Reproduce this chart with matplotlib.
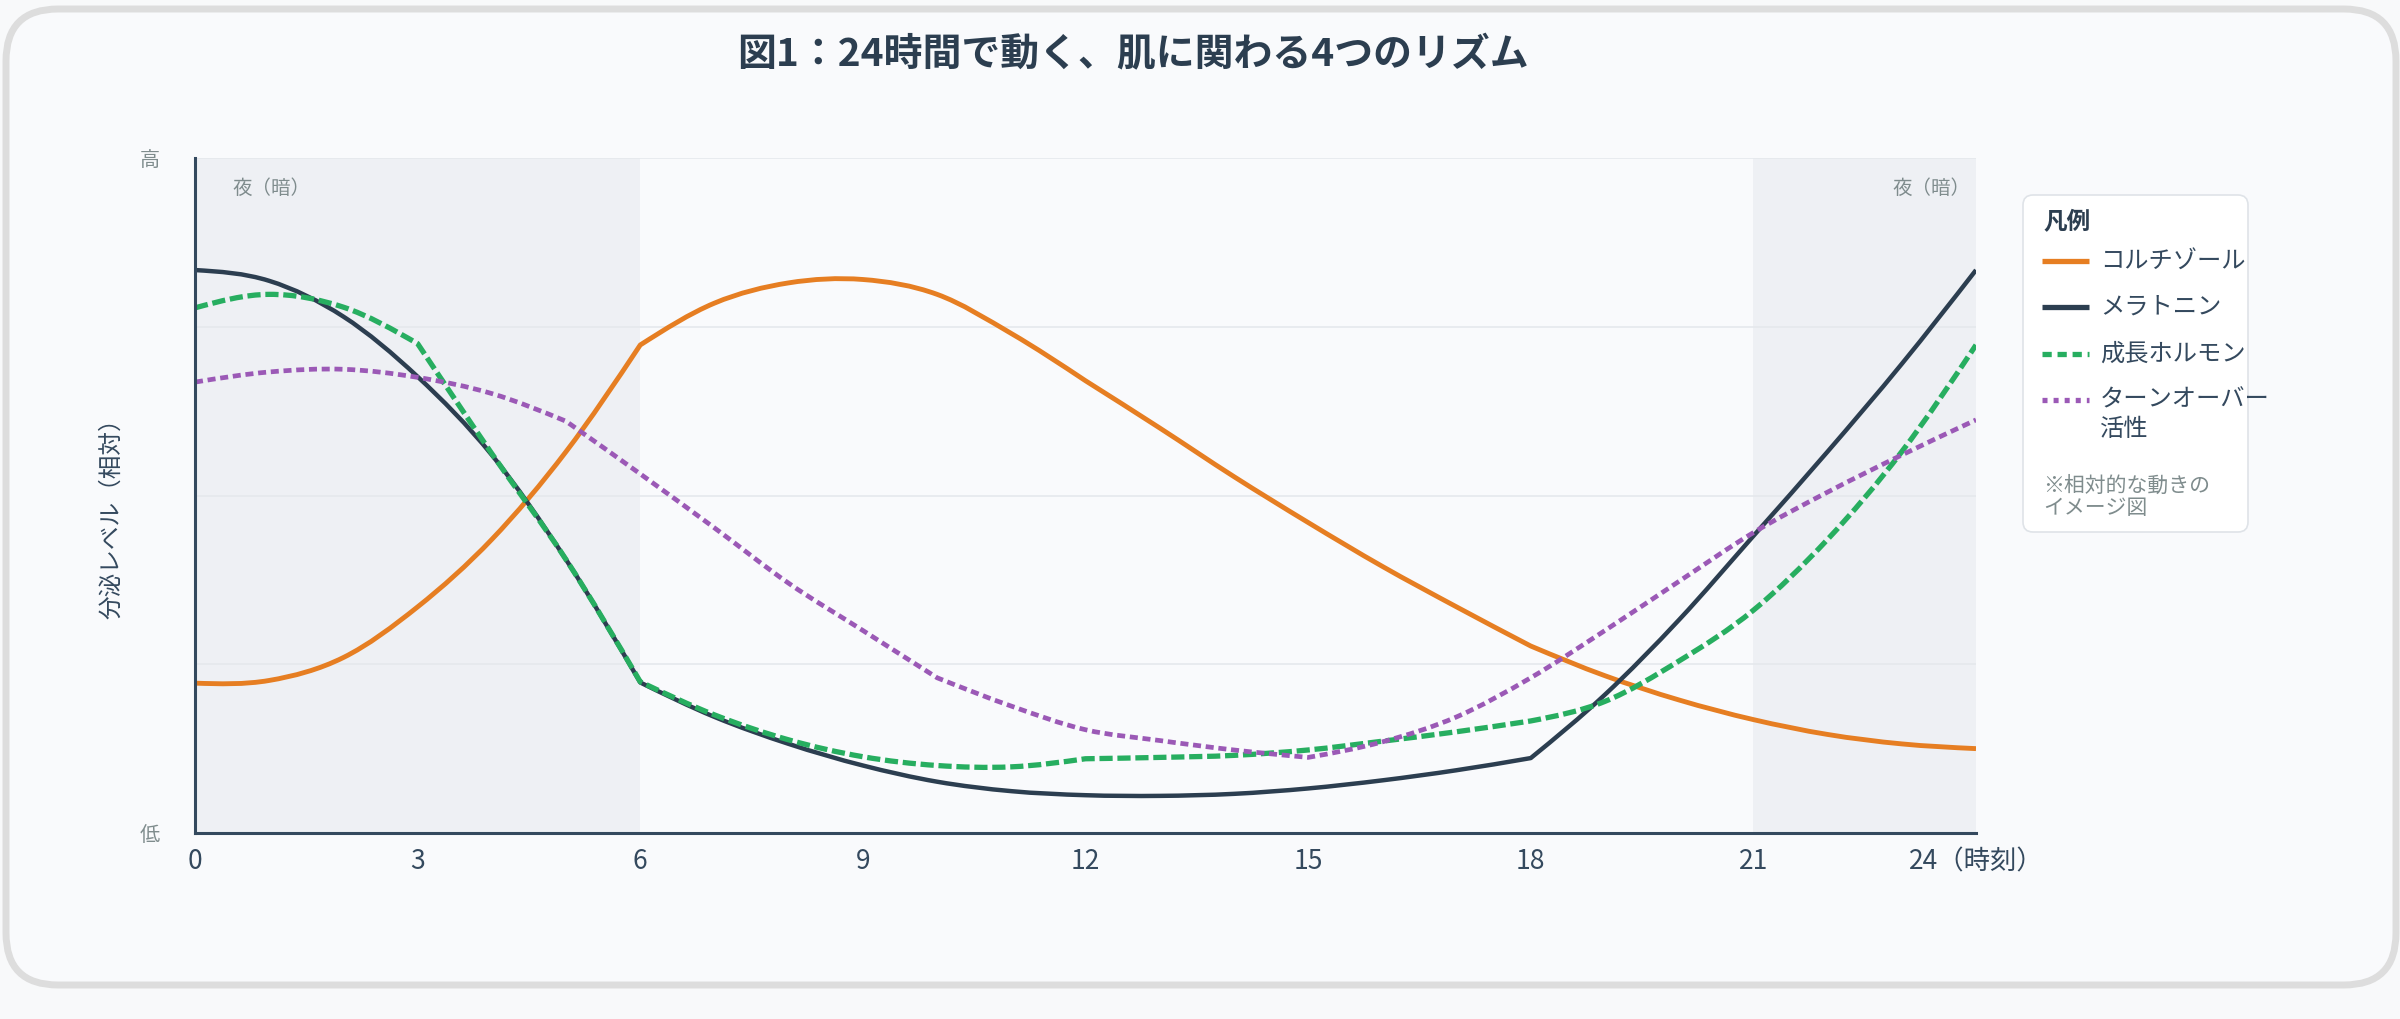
import matplotlib
matplotlib.use("Agg")
import matplotlib.pyplot as plt
from matplotlib.path import Path
from matplotlib.patches import PathPatch, FancyBboxPatch
from matplotlib.lines import Line2D
from matplotlib.transforms import IdentityTransform

plt.rcParams['font.family'] = ['Noto Sans CJK JP', 'DejaVu Sans']

# ---------------- data (relative level 0-100, hourly) ----------------
hours = list(range(25))
cortisol = [22.2, 22.6, 26.0, 33.5, 43.5, 56.5, 72.3, 78.5, 81.5, 82.0, 79.8, 74.0, 67.0,
            60.0, 52.8, 46.0, 39.5, 33.5, 27.7, 23.3, 19.7, 16.8, 14.6, 13.2, 12.5]
melatonin = [83.4, 81.8, 76.5, 67.6, 56.0, 40.5, 22.3, 17.2, 13.2, 10.0, 7.6, 6.2, 5.6,
             5.5, 5.8, 6.6, 7.8, 9.3, 11.1, 20.5, 31.6, 44.0, 56.5, 69.5, 83.4]
growth = [77.8, 79.8, 77.9, 72.5, 56.2, 40.5, 22.4, 17.5, 13.8, 11.3, 10.0, 9.8, 11.0,
          11.2, 11.5, 12.3, 13.6, 15.0, 16.6, 19.5, 25.5, 33.0, 43.5, 56.5, 72.3]
turnover = [66.8, 68.3, 68.7, 67.5, 65.1, 61.0, 53.2, 45.2, 37.0, 30.0, 23.0, 18.8, 15.3,
            13.7, 12.3, 11.2, 13.5, 17.2, 23.0, 30.0, 37.3, 44.5, 50.5, 56.0, 61.2]

series_values = [cortisol, melatonin, growth, turnover]
series_labels = ['コルチゾール', 'メラトニン', '成長ホルモン', 'ターンオーバー\n活性']
series_colors = ['#e67e22', '#2c3e50', '#27ae60', '#9b59b6']
series_breaks = [[6, 12, 18], [6, 18], [3, 6, 12, 18], [5, 10, 15]]

night_spans = [(0, 6), (21, 24)]
night_label = '夜（暗）'
xtick_values = [0, 3, 6, 9, 12, 15, 18, 21, 24]
xtick_labels = ['0', '3', '6', '9', '12', '15', '18', '21', '24（時刻）']
ytick_values = [0, 25, 50, 75, 100]
ytick_labels = ['低', '', '', '', '高']
title = '図1：24時間で動く、肌に関わる4つのリズム'
ylabel = '分泌レベル（相対）'
legend_title = '凡例'
legend_note = '※相対的な動きの\nイメージ図'

# ---------------- styles ----------------
line_widths = [3.5, 3.2, 3.8, 3.4]
line_styles = ['-', '-', (0, (2.5, 0.9)), (0, (1.7, 1.0))]
legend_styles = ['-', '-', (0, (1.75, 1.1)), (0, (0.95, 1.15))]

W, H = 2400, 1019
fig = plt.figure(figsize=(24, 10.19), dpi=100, facecolor='#f8f9fa')


def fx(x):
    return x / W


def fy(y):
    return 1 - y / H


# card background
card = FancyBboxPatch((6, H - 985), 2390, 976,
                      boxstyle='round,pad=0,rounding_size=52',
                      transform=IdentityTransform(), facecolor='#f9fafc',
                      edgecolor='#dddddd', linewidth=5.0, zorder=0)
fig.add_artist(card)

ax = fig.add_axes([fx(195), fy(833), (1976 - 195) / W, (833 - 158) / H])
ax.patch.set_alpha(0.0)
ax.set_xlim(0, 24)
ax.set_ylim(0, 100)

for a, b in night_spans:
    ax.axvspan(a, b, color='#eef0f4', lw=0, zorder=0)

ax.set_yticks(ytick_values)
ax.set_yticklabels(ytick_labels)
ax.set_xticks(xtick_values)
ax.set_xticklabels(xtick_labels)
ax.grid(axis='y', color='#e4e7ec', lw=1.1, zorder=0.5)
ax.set_axisbelow(True)
ax.tick_params(axis='x', length=0, pad=11, labelsize=19, labelcolor='#34495e')
ax.tick_params(axis='y', length=0, pad=25, labelsize=14.5, labelcolor='#7f8c8d')
for s in ['top', 'right']:
    ax.spines[s].set_visible(False)
for s in ['left', 'bottom']:
    ax.spines[s].set_color('#34495e')
    ax.spines[s].set_linewidth(2.2)
    ax.spines[s].set_zorder(5)


def smooth_path(xs, ys, breaks):
    """Piecewise cubic Bezier through the data points (C1 except at break points)."""
    n = len(xs)
    bidx = {0, n - 1} | {xs.index(b) for b in breaks}
    m_int = [0.0] * n
    for i in range(1, n - 1):
        m_int[i] = (ys[i + 1] - ys[i - 1]) / (xs[i + 1] - xs[i - 1])
    m_out = list(m_int)
    m_in = list(m_int)
    for i in bidx:
        if i < n - 1:
            d = (ys[i + 1] - ys[i]) / (xs[i + 1] - xs[i])
            m_out[i] = d if (i + 1) in bidx else (3 * d - m_int[i + 1]) / 2
        if i > 0:
            d = (ys[i] - ys[i - 1]) / (xs[i] - xs[i - 1])
            m_in[i] = d if (i - 1) in bidx else (3 * d - m_int[i - 1]) / 2
    verts = [(xs[0], ys[0])]
    codes = [Path.MOVETO]
    for i in range(n - 1):
        h = (xs[i + 1] - xs[i]) / 3.0
        verts += [(xs[i] + h, ys[i] + h * m_out[i]),
                  (xs[i + 1] - h, ys[i + 1] - h * m_in[i + 1]),
                  (xs[i + 1], ys[i + 1])]
        codes += [Path.CURVE4] * 3
    return Path(verts, codes)


for vals, col, lw, ls, brk, z in zip(series_values, series_colors, line_widths, line_styles,
                                     series_breaks, [3, 3.1, 3.2, 3.3]):
    p = PathPatch(smooth_path(hours, vals, brk), fill=False, edgecolor=col, lw=lw,
                  linestyle=ls, capstyle='butt', joinstyle='round', zorder=z,
                  transform=ax.transData)
    ax.add_patch(p)

ax.text(0.5, 95.5, night_label, ha='left', va='center', color='#7f8c8d', fontsize=14)
ax.text(23.93, 95.5, night_label, ha='right', va='center', color='#7f8c8d', fontsize=14)

fig.text(fx(1133), fy(55), title, ha='center', va='center', fontsize=28,
         weight='bold', color='#2c3e50')
fig.text(fx(112), fy(513), ylabel, ha='center', va='center', rotation=90,
         fontsize=17, color='#34495e')

# ---------------- legend ----------------
lbox = FancyBboxPatch((2023, H - 532), 225, 337,
                      boxstyle='round,pad=0,rounding_size=10',
                      transform=IdentityTransform(), facecolor='#ffffff',
                      edgecolor='#dfe3e8', linewidth=1.2, zorder=6)
fig.add_artist(lbox)
fig.text(fx(2043), fy(222), legend_title, ha='left', va='center', fontsize=17,
         weight='bold', color='#2c3e50', zorder=7)
entry_y = [261, 307, 354, 400]
for lab, col, ls, y in zip(series_labels, series_colors, legend_styles, entry_y):
    fig.add_artist(Line2D([fx(2042), fx(2089)], [fy(y), fy(y)], transform=fig.transFigure,
                          color=col, lw=3.8, linestyle=ls, solid_capstyle='butt',
                          dash_capstyle='butt', zorder=7))
    ty = y if '\n' not in lab else y + 14
    fig.text(fx(2100), fy(ty), lab, ha='left', va='center', fontsize=17.5,
             color='#34495e', linespacing=1.15, zorder=7)
fig.text(fx(2043), fy(497), legend_note, ha='left', va='center', fontsize=15,
         color='#7f8c8d', linespacing=1.05, zorder=7)

fig.savefig('out.png', dpi=100, facecolor=fig.get_facecolor())
